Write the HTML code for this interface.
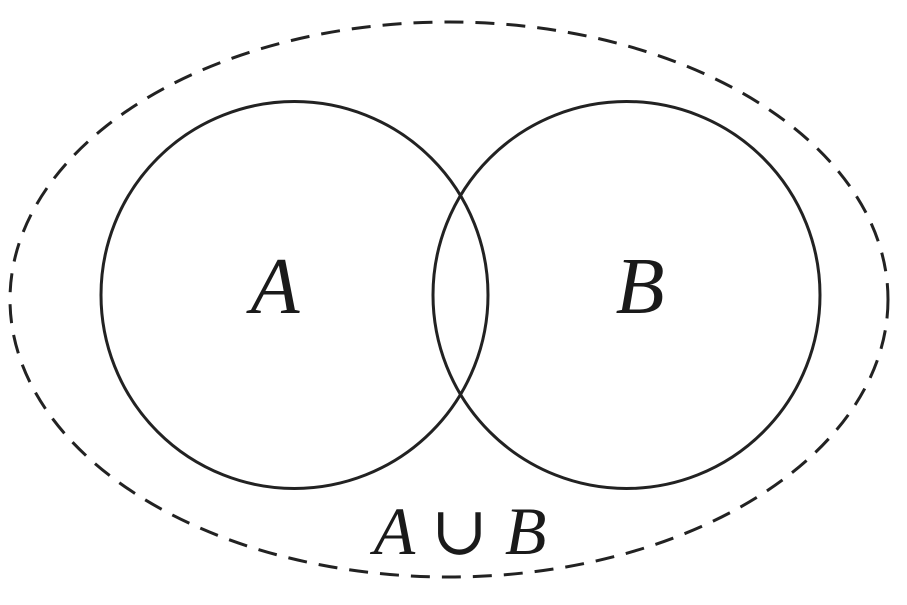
<!DOCTYPE html>
<html><head><style>
html,body{margin:0;padding:0;background:#fff;}
svg{display:block;}
</style></head><body>
<svg width="907" height="605" viewBox="0 0 907 605" xmlns="http://www.w3.org/2000/svg">
<ellipse cx="449" cy="299.5" rx="439" ry="277.5" fill="none" stroke="#222" stroke-width="3" stroke-dasharray="19,12"/>
<circle cx="294.5" cy="295" r="193.5" fill="none" stroke="#222" stroke-width="3"/>
<circle cx="626.5" cy="295" r="193.5" fill="none" stroke="#222" stroke-width="3"/>
<g font-family="'Liberation Serif','DejaVu Serif',serif" font-style="italic" fill="#1a1a1a">
<text x="275" y="313" font-size="80" text-anchor="middle">A</text>
<text x="640" y="313" font-size="80" text-anchor="middle">B</text>
<text x="460" y="554" font-size="68" text-anchor="middle">A <tspan font-style="normal">∪</tspan> B</text>
</g>
</svg>
</body></html>
